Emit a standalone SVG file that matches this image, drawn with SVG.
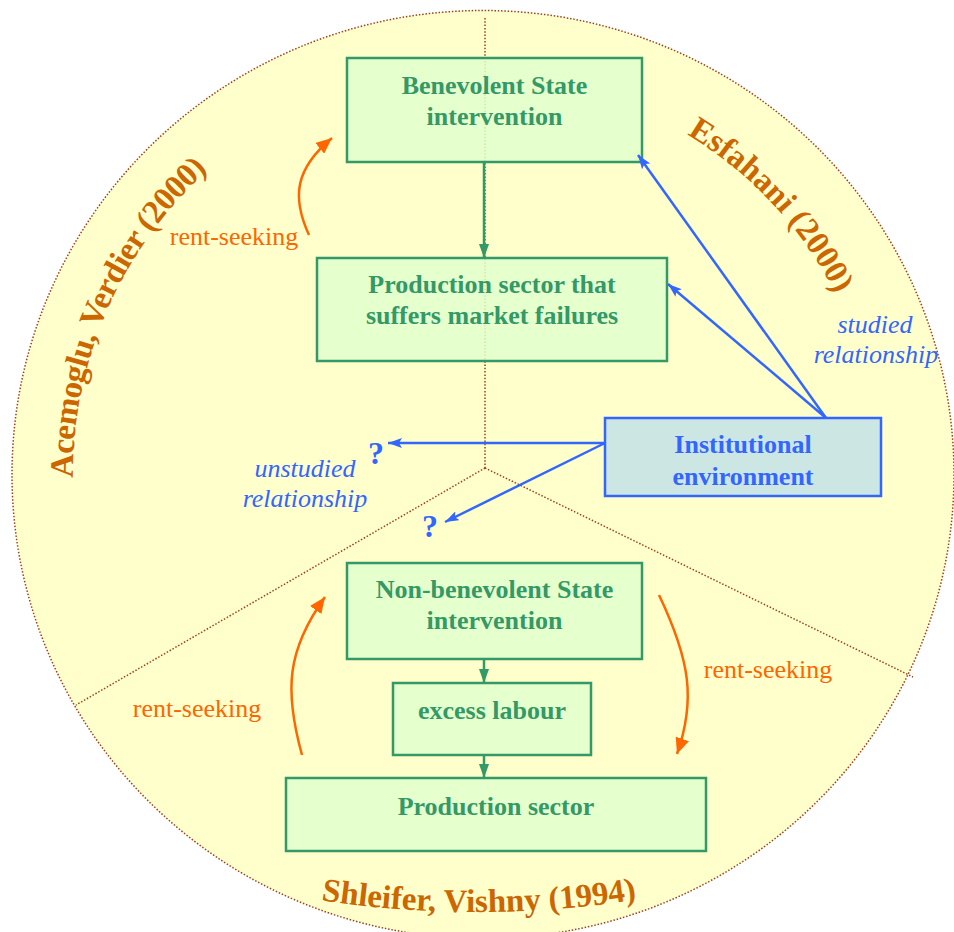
<svg xmlns="http://www.w3.org/2000/svg" width="954" height="932" viewBox="0 0 954 932">
  <defs>
    <style>
      .divider { fill: none; stroke: #a0401a; stroke-width: 1.5; stroke-dasharray: 1.5 1.8; }
      .box { fill: #e0ffcc; fill-opacity: 0.85; stroke: #339966; stroke-width: 2.5; }
      .inst { fill: #cce6e3; stroke: #3366ff; stroke-width: 2.5; }
      .boxtext { font-family: "Liberation Serif", "Times New Roman", serif; font-weight: bold; font-size: 26px; fill: #339966; text-anchor: middle; }
      .insttext { font-family: "Liberation Serif", "Times New Roman", serif; font-weight: bold; font-size: 26px; fill: #3366ff; text-anchor: middle; }
      .note { font-family: "Liberation Serif", "Times New Roman", serif; font-style: italic; font-size: 26px; fill: #3366ff; text-anchor: middle; }
      .rent { font-family: "Liberation Serif", "Times New Roman", serif; font-size: 26px; fill: #ff6600; text-anchor: middle; }
      .qmark { font-family: "Liberation Serif", "Times New Roman", serif; font-weight: bold; font-size: 32px; fill: #3366ff; text-anchor: middle; }
      .author { font-family: "Liberation Serif", "Times New Roman", serif; font-weight: bold; font-size: 33px; fill: #cc6600; }
      .green { fill: none; stroke: #339966; stroke-width: 2.5; marker-end: url(#headGreen); }
      .blue { fill: none; stroke: #3366ff; stroke-width: 2.5; marker-end: url(#headBlue); }
      .orange { fill: none; stroke: #ff6600; stroke-width: 2.5; marker-end: url(#headOrange); }
    </style>
    <marker id="headGreen" markerUnits="userSpaceOnUse" viewBox="0 0 14 10" refX="14" refY="5" markerWidth="14" markerHeight="10" orient="auto">
      <path d="M0,0 L14,5 L0,10 z" fill="#339966"/>
    </marker>
    <marker id="headBlue" markerUnits="userSpaceOnUse" viewBox="0 0 14 10" refX="14" refY="5" markerWidth="14" markerHeight="10" orient="auto">
      <path d="M0,0 L14,5 L0,10 L3,5 z" fill="#3366ff"/>
    </marker>
    <marker id="headOrange" markerUnits="userSpaceOnUse" viewBox="0 0 16 14" refX="16" refY="7" markerWidth="16" markerHeight="14" orient="auto">
      <path d="M0,0 L16,7 L0,14 z" fill="#ff6600"/>
    </marker>
    <!-- baselines for the three author captions -->
    <path id="arcLeft" d="M73,477.6 A410,410 0 0 1 342.8,88.7"/>
    <path id="arcRight" d="M686.9,134.5 A396,396 0 0 1 873,405.3"/>
    <path id="arcBottom" d="M321,900.3 A1030,1030 0 0 0 700,887.6"/>
  </defs>

  <!-- background disc split into three sectors -->
  <g id="disc">
    <ellipse cx="483" cy="474.5" rx="471" ry="464" class="divider" style="fill:#ffffcc"/>
    <path class="divider" d="M485,18 L485,468 M485,468 L76,705 M485,468 L913,677"/>
  </g>

  <!-- author captions -->
  <g id="captions">
    <text class="author" letter-spacing="-0.6"><textPath href="#arcLeft">Acemoglu, Verdier (2000)</textPath></text>
    <text class="author"><textPath href="#arcRight">Esfahani (2000)</textPath></text>
    <text class="author" font-size="34"><textPath href="#arcBottom">Shleifer, Vishny (1994)</textPath></text>
  </g>

  <g id="benevolent">
    <rect class="box" x="347" y="58" width="295" height="104"/>
    <text class="boxtext" x="494.5" y="94">Benevolent State</text>
    <text class="boxtext" x="494.5" y="125">intervention</text>
  </g>

  <g id="market-failures">
    <rect class="box" x="317" y="258" width="350" height="103"/>
    <text class="boxtext" x="492" y="293">Production sector that</text>
    <text class="boxtext" x="492" y="324">suffers market failures</text>
  </g>

  <g id="institutional">
    <rect class="inst" x="605" y="418" width="276" height="78"/>
    <text class="insttext" x="743" y="453">Institutional</text>
    <text class="insttext" x="743" y="485">environment</text>
  </g>

  <g id="non-benevolent">
    <rect class="box" x="347" y="563" width="295" height="96"/>
    <text class="boxtext" x="494.5" y="598">Non-benevolent State</text>
    <text class="boxtext" x="494.5" y="629">intervention</text>
  </g>

  <g id="excess-labour">
    <rect class="box" x="393" y="683" width="198" height="72"/>
    <text class="boxtext" x="492" y="719">excess labour</text>
  </g>

  <g id="production">
    <rect class="box" x="286" y="778" width="420" height="73"/>
    <text class="boxtext" x="496" y="815">Production sector</text>
  </g>

  <g id="connectors">
    <path class="green" d="M484,162 L484,258"/>
    <path class="green" d="M484,659 L484,683"/>
    <path class="green" d="M484,755 L484,778"/>

    <path class="blue" d="M826,418 L638,155"/>
    <path class="blue" d="M826,418 L668,284"/>
    <path class="blue" d="M605,443 L388,443"/>
    <path class="blue" d="M605,443 L445,522"/>

    <path class="orange" d="M309,235 C291,196 296,168 332,138"/>
    <path class="orange" d="M302,755 C284,690 287,650 325,597"/>
    <path class="orange" d="M659,595 C690,660 696,700 677,754"/>
  </g>

  <g id="labels">
    <text class="rent" x="234" y="245">rent-seeking</text>
    <text class="rent" x="197" y="717">rent-seeking</text>
    <text class="rent" x="768" y="678">rent-seeking</text>
    <text class="note" x="875" y="333">studied</text>
    <text class="note" x="876" y="363">relationship</text>
    <text class="note" x="305" y="477">unstudied</text>
    <text class="note" x="305" y="507">relationship</text>
    <text class="qmark" x="376" y="464">?</text>
    <text class="qmark" x="430" y="537">?</text>
  </g>
</svg>
